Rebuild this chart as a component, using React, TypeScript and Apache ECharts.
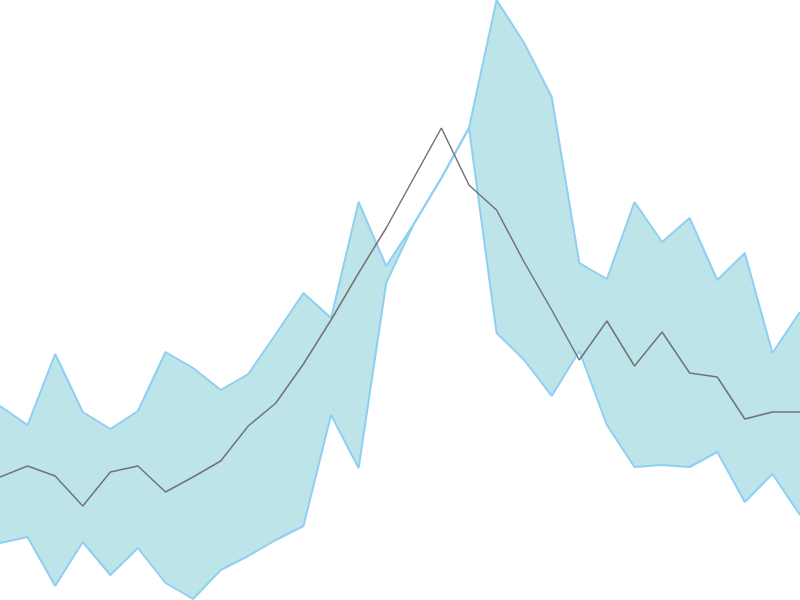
import React, { useEffect, useRef } from "react";
import * as echarts from "echarts";

const categories: string[] = Array.from({ length: 30 }, (_, i) => String(i + 1));

const upperValues: number[] = [
  19.4, 17.5, 24.6, 18.8, 17.1, 18.9, 24.8, 23.2, 21.0, 22.6,
  26.6, 30.7, 28.2, 39.8, 33.4, 37.6, 42.2, 47.2, 60.0, 55.7,
  50.3, 33.7, 32.1, 39.8, 35.8, 38.2, 32.0, 34.7, 24.7, 28.8,
];

const lowerValues: number[] = [
  5.7, 6.3, 1.4, 5.8, 2.5, 5.2, 1.7, 0.1, 3.0, 4.4,
  6.0, 7.4, 18.5, 13.2, 31.7, 37.6, 42.2, 47.2, 26.7, 24.0,
  20.4, 24.9, 17.5, 13.3, 13.5, 13.3, 14.8, 9.8, 12.6, 8.5,
];

const midValues: number[] = [
  12.3, 13.4, 12.4, 9.4, 12.8, 13.4, 10.8, 12.3, 13.9, 17.4,
  19.7, 23.6, 28.0, 32.7, 37.2, 42.2, 47.2, 41.5, 39.0, 33.8,
  29.0, 24.0, 27.9, 23.4, 26.8, 22.7, 22.3, 18.1, 18.8, 18.8,
];

export default function App() {
  const ref = useRef<HTMLDivElement>(null);

  useEffect(() => {
    document.body.style.margin = "0";
    if (!ref.current) return;
    const chart = echarts.init(ref.current, null, { renderer: "svg" });
    const bandDiff = upperValues.map((u, i) => +(u - lowerValues[i]).toFixed(2));
    const bandColor = "#8ecff3";
    chart.setOption({
      animation: false,
      grid: { left: 0, right: 0, top: 0, bottom: 0 },
      xAxis: {
        type: "category",
        data: categories,
        boundaryGap: false,
        show: false,
      },
      yAxis: {
        type: "value",
        min: 0,
        max: 60,
        show: false,
      },
      series: [
        {
          name: "Lower",
          type: "line",
          data: lowerValues,
          stack: "band",
          symbol: "none",
          lineStyle: { color: bandColor, width: 2 },
        },
        {
          name: "Band",
          type: "line",
          data: bandDiff,
          stack: "band",
          symbol: "none",
          lineStyle: { color: bandColor, width: 2 },
          areaStyle: { color: "#bde4e9", opacity: 1 },
        },
        {
          name: "Mean",
          type: "line",
          data: midValues,
          symbol: "none",
          lineStyle: { color: "#737373", width: 1.5 },
          z: 5,
        },
      ],
    });
    return () => chart.dispose();
  }, []);

  return <div ref={ref} style={{ width: 800, height: 600 }} />;
}
